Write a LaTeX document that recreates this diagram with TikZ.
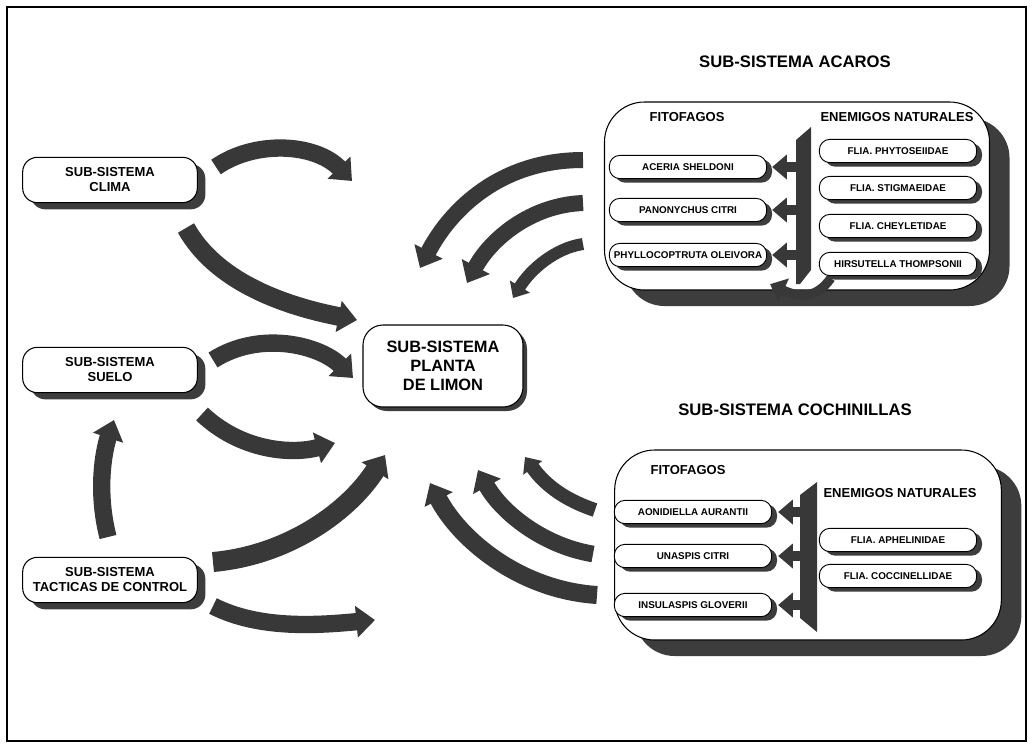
\documentclass[tikz,border=0pt]{standalone}
\usepackage{fontspec}
\setmainfont{Liberation Sans}
\usetikzlibrary{arrows.meta,shadows,calc}

\begin{document}
\begin{tikzpicture}[x=0.75pt,y=-0.75pt,
  shadowcol/.style={fill=black!76, opacity=1},
  sysbox/.style={draw, line width=0.8pt, fill=white, rounded corners=11pt,
    minimum width=131pt, minimum height=34pt, inner sep=0pt, align=center,
    font=\bfseries\fontsize{9.75}{11.25}\selectfont,
    drop shadow={shadow xshift=6pt, shadow yshift=-5pt, shadowcol}},
  mainbox/.style={draw, line width=0.8pt, fill=white, rounded corners=15pt,
    minimum width=120pt, minimum height=61.5pt, inner sep=0pt, align=center,
    font=\bfseries\fontsize{12.3}{14.25}\selectfont,
    drop shadow={shadow xshift=3pt, shadow yshift=-3pt, shadowcol}},
  groupbox/.style={draw, line width=0.8pt, fill=white, rounded corners=30pt,
    inner sep=0pt,
    drop shadow={shadow xshift=15pt, shadow yshift=-12pt, shadowcol}},
  leafbox/.style={draw, line width=0.7pt, fill=white, rounded corners=8pt,
    minimum width=118pt, minimum height=17.5pt, inner sep=0pt,
    font=\bfseries\fontsize{7.4}{9}\selectfont,
    drop shadow={shadow xshift=4pt, shadow yshift=-3pt, shadowcol}},
  title/.style={font=\bfseries\fontsize{12.5}{15}\selectfont, inner sep=0pt},
  label/.style={font=\bfseries\fontsize{9.75}{12}\selectfont, inner sep=0pt},
  blk/.style={draw=black!78, line width=#1, -{Triangle[length=14pt,width=23pt]}},
  sblk/.style={draw=black!78, line width=#1, -{Triangle[length=10pt,width=17pt]}},
  hblk/.style={draw=black!78, line width=7.5pt, -{Triangle[length=11pt,width=18pt]}},
  bar/.style={fill=black!78}
]
\useasboundingbox (0,0) rectangle (1030,744);
\draw[line width=1.2pt] (7,7) rectangle (1026,741);

% ---- left-hand sub-systems and the plant ----
\node[sysbox] (clima) at (110,180) {SUB-SISTEMA\\CLIMA};
\node[sysbox] (suelo) at (110,370) {SUB-SISTEMA\\SUELO};
\node[sysbox] (tact) at (110,580) {SUB-SISTEMA\\TACTICAS\ DE\ CONTROL};
\node[mainbox] (planta) at (443,366) {SUB-SISTEMA\\PLANTA\\DE LIMON};

% ---- mite sub-system ----
\node[title] (acarosT) at (795,62) {SUB-SISTEMA ACAROS};
\node[groupbox, minimum width=288.75pt, minimum height=141pt] (acaros) at (797,196) {};
\node[label] (fitoA) at (687,117) {FITOFAGOS};
\node[label] (enemA) at (897,117) {ENEMIGOS NATURALES};
\node[leafbox] (aceria) at (688,167) {ACERIA SHELDONI};
\node[leafbox] (panon) at (688,210) {PANONYCHUS CITRI};
\node[leafbox] (phyllo) at (688,255) {PHYLLOCOPTRUTA OLEIVORA};
\node[leafbox] (phyto) at (898,151) {FLIA. PHYTOSEIIDAE};
\node[leafbox] (stigma) at (898,188) {FLIA. STIGMAEIDAE};
\node[leafbox] (cheyl) at (898,226) {FLIA. CHEYLETIDAE};
\node[leafbox] (hirsu) at (898,264) {HIRSUTELLA THOMPSONII};
\fill[bar] (796,140) -- (811,127) -- (811,270) -- (800,284) -- (796,284) -- cycle;
\coordinate (barA) at (797,0);
\draw[hblk] (barA |- aceria.east) -- ($(aceria.east)+(5,0)$);
\draw[hblk] (barA |- panon.east) -- ($(panon.east)+(5,0)$);
\draw[hblk] (barA |- phyllo.east) -- ($(phyllo.east)+(5,0)$);
% fungus acting on the rust mite
\coordinate (hs) at ($(hirsu.south west)+(12,2)$);
\coordinate (he) at ($(phyllo.south east)+(3,17)$);
\draw[draw=black!78, line width=7pt, -{Triangle[length=11pt,width=19pt]}]
  (hs) .. controls +(-14,20) and +(30,14) .. (he);

% ---- scale-insect sub-system ----
\node[title] (cochT) at (795,410) {SUB-SISTEMA COCHINILLAS};
\node[groupbox, minimum width=290pt, minimum height=142.5pt] (coch) at (808,545) {};
\node[label] (fitoC) at (688,470) {FITOFAGOS};
\node[label] (enemC) at (900,493) {ENEMIGOS NATURALES};
\node[leafbox] (aonid) at (693,512) {AONIDIELLA AURANTII};
\node[leafbox] (unasp) at (693,556) {UNASPIS CITRI};
\node[leafbox] (insul) at (693,605) {INSULASPIS GLOVERII};
\node[leafbox] (aphel) at (898,540) {FLIA. APHELINIDAE};
\node[leafbox] (cocci) at (898,576) {FLIA. COCCINELLIDAE};
\fill[bar] (800,495) -- (817,482) -- (817,632) -- (800,618) -- cycle;
\coordinate (barC) at (801,0);
\draw[hblk] (barC |- aonid.east) -- ($(aonid.east)+(6,0)$);
\draw[hblk] (barC |- unasp.east) -- ($(unasp.east)+(6,0)$);
\draw[hblk] (barC |- insul.east) -- ($(insul.east)+(6,0)$);

% ---- influence arrows ----
\coordinate (c1s) at (216,167);  \coordinate (c1e) at (352,181);
\coordinate (c2s) at (186,228);  \coordinate (c2e) at (357,320);
\coordinate (s1s) at (213,360);  \coordinate (s1e) at (353,378);
\coordinate (s2s) at (202,414);  \coordinate (s2e) at (335,443);
\coordinate (t0s) at (108,537);  \coordinate (t0e) at (114,420);
\coordinate (t1s) at (213,562);  \coordinate (t1e) at (385,455);
\coordinate (t2s) at (213,606);  \coordinate (t2e) at (375,620);
\coordinate (a1s) at (583,160);  \coordinate (a1e) at (420,268);
\coordinate (a2s) at (583,203);  \coordinate (a2e) at (467,283);
\coordinate (a3s) at (583,244);  \coordinate (a3e) at (513,298);
\coordinate (k1s) at (595,510);  \coordinate (k1e) at (525,457);
\coordinate (k2s) at (593,554);  \coordinate (k2e) at (478,470);
\coordinate (k3s) at (597,595);  \coordinate (k3e) at (430,483);

\draw[blk=13pt] (c1s) .. controls +(39,-27) and +(-37,-38) .. (c1e);
\draw[blk=14pt] (c2s) .. controls +(29,52) and +(-77,-15) .. (c2e);
\draw[blk=13pt] (s1s) .. controls +(47,-30) and +(-33,-33) .. (s1e);
\draw[blk=13pt] (s2s) .. controls +(38,36) and +(-45,12) .. (s2e);
\draw[blk=13pt] (t0s) .. controls +(-12,-47) and +(-10,30) .. (t0e);
\draw[blk=15pt] (t1s) .. controls +(77,-7) and +(-35,55) .. (t1e);
\draw[blk=13pt] (t2s) .. controls +(47,24) and +(-55,5) .. (t2e);
\draw[blk=12pt] (a1s) .. controls +(-83,0) and +(30,-58) .. (a1e);
\draw[blk=12pt] (a2s) .. controls +(-53,2) and +(23,-43) .. (a2e);
\draw[sblk=9pt] (a3s) .. controls +(-28,4) and +(17,-28) .. (a3e);
\draw[sblk=10.5pt] (k1s) .. controls +(-30,-10) and +(20,28) .. (k1e);
\draw[blk=12.5pt] (k2s) .. controls +(-53,-9) and +(22,40) .. (k2e);
\draw[blk=13.5pt] (k3s) .. controls +(-77,-5) and +(30,57) .. (k3e);
\end{tikzpicture}
\end{document}
